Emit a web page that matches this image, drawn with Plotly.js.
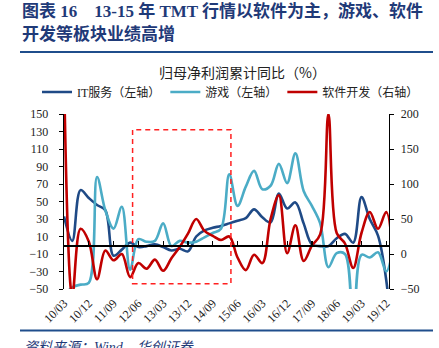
<!DOCTYPE html>
<html><head><meta charset="utf-8">
<script src="https://cdn.plot.ly/plotly-3.0.1.min.js"></script>
<style>html,body{margin:0;padding:0;background:#fff;} #chart{width:439px;height:348px;}</style>
</head><body><div id="chart"></div>
<script>
// Quarterly categories (10/03 ... 20/03)
const quarters = ['10/03','10/06','10/09','10/12','11/03','11/06','11/09','11/12','12/03','12/06',
  '12/09','12/12','13/03','13/06','13/09','13/12','14/03','14/06','14/09','14/12',
  '15/03','15/06','15/09','15/12','16/03','16/06','16/09','16/12','17/03','17/06',
  '17/09','17/12','18/03','18/06','18/09','18/12','19/03','19/06','19/09','19/12','20/03'];
// Tick labels shown on the x axis
const tickLabels = ['10/03','10/12','11/09','12/06','13/03','13/12','14/09','15/06','16/03','16/12','17/09','18/06','19/03','19/12'];
// IT服务 (left axis, %)
const itService = [33,5,63,54,46,40,-12,-5,3,-2,-1,1,-2,-6,-4,-7,10,17,20,22,
  25,28,31,41,32,26,59,42,49,25,1,-1,-1,8,13,3,55,30,11,-40,-150];
// 游戏 (left axis, %)
const games = [-58,-48,-45,-43,78,40,19,44,-28,7,4,5,25,-1,5,3,4,9,14,19,
  81,45,67,85,64,68,93,71,105,62,45,25,-25,-9,-10,-150,-11,-14,-8,-30,10];
// 软件开发 (right axis, %)
const software = [260,-60,36,18,-36,5,-9,0,-33,-13,-21,-8,-24,-6,10,29,50,33,26,20,
  25,-5,-23,-1,-13,50,84,1,41,-10,12,28,200,30,15,-20,30,60,36,60,-150];
const seriesNames = ['IT服务（左轴）','游戏（左轴）','软件开发（右轴）'];

const L = 64, T = 114, PW = 325, PH = 175;
const fx = px => (px - L) / PW;
const fy = py => (T + PH - py) / PH;
const serif = 'Liberation Serif, Noto Sans CJK SC, serif';
const navy = '#1F3A78';

const lineStyle = c => ({color: c, width: 2.6, shape: 'spline', smoothing: 1});
const data = [
  {x: quarters, y: itService, name: seriesNames[0], type: 'scatter', mode: 'lines', line: lineStyle('#1F4A86'), xaxis: 'x', yaxis: 'y'},
  {x: quarters, y: games, name: seriesNames[1], type: 'scatter', mode: 'lines', line: lineStyle('#4BACC6'), xaxis: 'x', yaxis: 'y'},
  {x: quarters, y: software, name: seriesNames[2], type: 'scatter', mode: 'lines', line: lineStyle('#C00000'), xaxis: 'x2', yaxis: 'y2'}
];

const axisFont = {family: serif, size: 12, color: '#222'};
const layout = {
  width: 439, height: 348,
  margin: {l: L, r: 439 - L - PW, t: T, b: 348 - T - PH, pad: 0},
  paper_bgcolor: '#fff', plot_bgcolor: '#fff',
  showlegend: true,
  legend: {orientation: 'h', x: fx(37), xanchor: 'left', y: fy(92), yanchor: 'middle',
    font: {family: serif, size: 12, color: '#222'}, bgcolor: 'rgba(0,0,0,0)', traceorder: 'normal', itemwidth: 30},
  xaxis: {type: 'category', range: [0, 39.33], tickmode: 'array', tickvals: tickLabels, ticktext: tickLabels,
    tickangle: -45, ticks: '', showline: false, showgrid: false, zeroline: false,
    tickfont: axisFont, ticklabelstandoff: 4},
  xaxis2: {overlaying: 'x', type: 'category', range: [0, 39.33], anchor: 'free', position: 0.25, side: 'bottom',
    showline: true, linecolor: '#000', linewidth: 1.3, ticks: 'inside', ticklen: 4, tickwidth: 1.2, tickcolor: '#000',
    tickmode: 'array', tickvals: tickLabels, showticklabels: false, showgrid: false, zeroline: false},
  yaxis: {range: [-50, 150], tick0: -50, dtick: 20, ticks: 'outside', ticklen: 4, tickcolor: '#000',
    showline: true, linecolor: '#000', linewidth: 1.3, showgrid: false, zeroline: false,
    tickfont: axisFont, ticklabelstandoff: 8},
  yaxis2: {overlaying: 'y', side: 'right', range: [-50, 200], tick0: -50, dtick: 50, ticks: 'outside', ticklen: 4, tickcolor: '#000',
    showline: true, linecolor: '#000', linewidth: 1.3, showgrid: false, zeroline: false,
    tickfont: axisFont, ticklabelstandoff: 4},
  shapes: [
    {type: 'rect', xref: 'x', yref: 'y', x0: 8.3, x1: 20.2, y0: -44, y1: 132,
      line: {color: '#FF2020', width: 1.5, dash: '5px,4px'}, fillcolor: 'rgba(0,0,0,0)'},
    {type: 'line', xref: 'paper', yref: 'paper', x0: fx(20), x1: fx(433), y0: fy(52), y1: fy(52),
      line: {color: '#1F4E8C', width: 2}},
    {type: 'line', xref: 'paper', yref: 'paper', x0: fx(20), x1: fx(433), y0: fy(330.5), y1: fy(330.5),
      line: {color: '#1F4E8C', width: 2}}
  ],
  annotations: [
    {text: '<b>图表 16　13-15 年 TMT 行情以软件为主，游戏、软件</b>', xref: 'paper', yref: 'paper',
      x: fx(20), y: fy(11), xanchor: 'left', yanchor: 'middle', showarrow: false,
      font: {family: serif, size: 17, color: navy}},
    {text: '<b>开发等板块业绩高增</b>', xref: 'paper', yref: 'paper',
      x: fx(20), y: fy(34), xanchor: 'left', yanchor: 'middle', showarrow: false,
      font: {family: serif, size: 17, color: navy}},
    {text: '归母净利润累计同比（%）', xref: 'paper', yref: 'paper',
      x: fx(242), y: fy(72), xanchor: 'center', yanchor: 'middle', showarrow: false,
      font: {family: 'Noto Sans CJK SC', size: 14, color: '#222'}},
    {text: '资料来源：Wind，华创证券', xref: 'paper', yref: 'paper',
      x: fx(22), y: fy(338), xanchor: 'left', yanchor: 'top', showarrow: false,
      font: {family: serif, size: 14, color: navy, style: 'italic'}}
  ]
};

Plotly.newPlot('chart', data, layout, {staticPlot: true, displayModeBar: false});
</script>
</body></html>
